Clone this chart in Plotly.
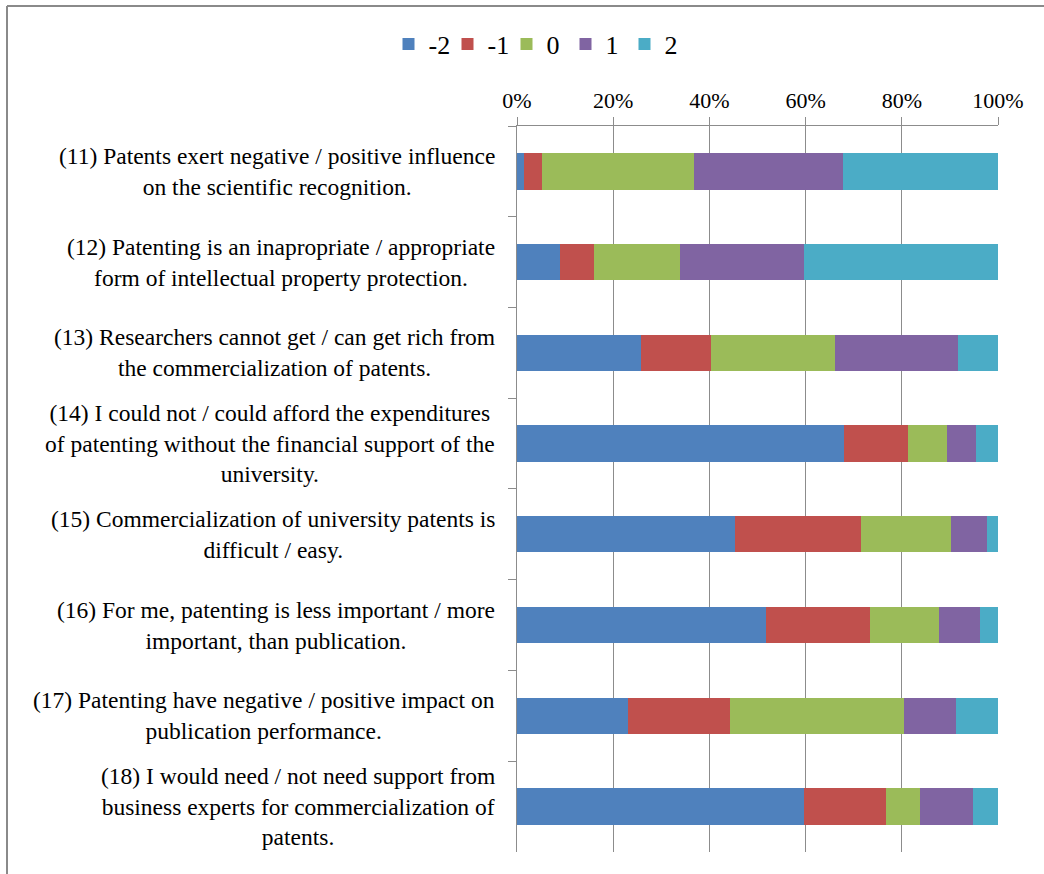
import plotly.graph_objects as go

# Survey statements (top to bottom)
categories = [
    "(11) Patents exert negative / positive influence<br>on the scientific recognition.",
    "(12) Patenting is an inapropriate / appropriate<br>form of intellectual property protection.",
    "(13) Researchers cannot get / can get rich from<br>the commercialization of patents.",
    "(14) I could not / could afford the expenditures<br>of patenting without the financial support of the<br>university.",
    "(15) Commercialization of university patents is<br>difficult / easy.",
    "(16) For me, patenting is less important / more<br>important, than publication.",
    "(17) Patenting have negative / positive impact on<br>publication performance.",
    "(18) I would need / not need support from<br>business experts for commercialization of<br>patents.",
]
row_ids = ["q11", "q12", "q13", "q14", "q15", "q16", "q17", "q18"]

# Share of answers (%) on the -2 .. 2 scale
series_names = ["-2", "-1", "0", "1", "2"]
neg2 = [1.4, 8.9, 25.7, 68.0, 45.4, 51.8, 23.0, 59.7]
neg1 = [3.8, 7.2, 14.6, 13.3, 26.1, 21.6, 21.3, 17.0]
zero = [31.6, 17.8, 25.8, 8.0, 18.8, 14.3, 36.2, 7.0]
pos1 = [31.0, 25.8, 25.5, 6.1, 7.5, 8.5, 10.7, 11.2]
pos2 = [32.2, 40.3, 8.4, 4.6, 2.2, 3.8, 8.8, 5.1]

x_ticks = [0, 20, 40, 60, 80, 100]
x_tick_text = [f"{v}%" for v in x_ticks]

colors = ["#4F81BD", "#C0504D", "#9BBB59", "#8064A2", "#4BACC6"]
grid = "#8C8C8C"
font_family = "Liberation Serif"

W, H = 1044, 874
ML, MR, MT, MB = 517, 46, 126, 22

fig = go.Figure()
for name, vals, col in zip(series_names, [neg2, neg1, zero, pos1, pos2], colors):
    fig.add_trace(go.Bar(
        y=row_ids, x=vals, name=name, orientation="h",
        marker=dict(color=col, line=dict(width=0)),
    ))

# Statement labels, centred line by line, to the left of the plot area
for rid, text in zip(row_ids, categories):
    fig.add_annotation(
        x=0, xref="paper", y=rid, yref="y",
        xanchor="right", yanchor="middle", xshift=-20,
        text=text, showarrow=False, align="center",
        font=dict(family=font_family, size=23.5, color="#000000"),
    )

# Outer chart frame (top and left edges)
px = lambda v: (v - ML) / (W - ML - MR)
py = lambda v: (H - MB - v) / (H - MT - MB)
fig.add_shape(type="line", xref="paper", yref="paper",
              x0=px(7), x1=px(W + 5), y0=py(6), y1=py(6),
              line=dict(color="#8A8A8A", width=2))
fig.add_shape(type="line", xref="paper", yref="paper",
              x0=px(7), x1=px(7), y0=py(6), y1=py(H + 5),
              line=dict(color="#8A8A8A", width=2))

fig.update_layout(
    width=W, height=H,
    margin=dict(l=ML, r=MR, t=MT, b=MB, autoexpand=False),
    barmode="stack", bargap=0.6,
    paper_bgcolor="white", plot_bgcolor="white",
    font=dict(family=font_family, color="#000000"),
    showlegend=True,
    legend=dict(
        orientation="h", x=px(536), xanchor="center", y=py(44), yanchor="middle",
        xref="paper", yref="paper", bgcolor="rgba(0,0,0,0)",
        font=dict(family=font_family, size=26),
        itemwidth=30, entrywidth=14, traceorder="normal",
    ),
    xaxis=dict(
        side="top", range=[0, 100], tickmode="array",
        tickvals=x_ticks, ticktext=x_tick_text,
        showgrid=True, gridcolor=grid, gridwidth=1,
        showline=True, linecolor=grid, linewidth=1,
        ticks="outside", ticklen=8, tickcolor=grid, tickwidth=1,
        tickfont=dict(family=font_family, size=22),
        zeroline=False, fixedrange=True,
    ),
    yaxis=dict(
        type="category", categoryorder="array", categoryarray=row_ids,
        autorange="reversed", showticklabels=False,
        showline=True, linecolor=grid, linewidth=1,
        ticks="outside", ticklen=8, tickcolor=grid, tickson="boundaries",
        showgrid=False, zeroline=False, fixedrange=True,
    ),
)

fig.write_html("out.html")
